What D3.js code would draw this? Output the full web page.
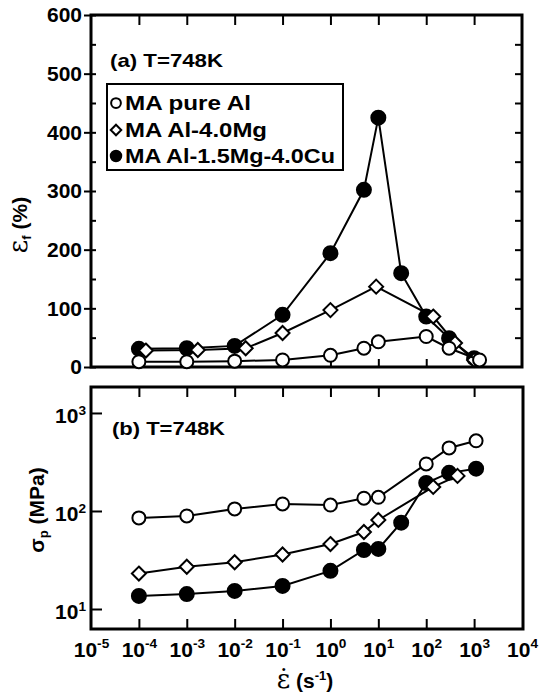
<!DOCTYPE html>
<html>
<head>
<meta charset="utf-8">
<script src="https://cdn.jsdelivr.net/npm/d3@7"></script>
<style>
  body { margin: 0; background: #fff; }
  text { font-family: "Liberation Sans", Arial, sans-serif; font-weight: bold; fill: #000; }
</style>
</head>
<body>
<svg id="chart" width="540" height="695"></svg>
<script>
// (a) elongation to failure, %
const topRatesAl = [1e-4, 1e-3, 1e-2, 1e-1, 1, 5, 10, 100, 300, 1300];
const topElongAl = [9, 9, 10, 12, 20, 32, 43, 52, 32, 12];
const topRatesMg = [1.4e-4, 1.7e-3, 1.7e-2, 1e-1, 1, 9, 140, 400, 1000];
const topElongMg = [28, 29, 32, 58, 97, 137, 86, 41, 12];
const topRatesCu = [1e-4, 1e-3, 1e-2, 1e-1, 1, 5, 10, 30, 100, 300, 1000];
const topElongCu = [31, 32, 36, 89, 194, 302, 425, 160, 86, 49, 15];

// (b) peak stress, MPa
const botRatesAl = [1e-4, 1e-3, 1e-2, 1e-1, 1, 5, 10, 100, 300, 1100];
const botStressAl = [85, 89, 105, 118, 115, 135, 138, 302, 440, 520];
const botRatesMg = [1e-4, 1e-3, 1e-2, 1e-1, 1, 5, 10, 140, 450];
const botStressMg = [23, 27, 30, 36, 46, 61, 81, 176, 228];
const botRatesCu = [1e-4, 1e-3, 1e-2, 1e-1, 1, 5, 10, 30, 100, 300, 1100];
const botStressCu = [13.6, 14.2, 15.3, 17.2, 24.5, 40, 41, 76, 193, 245, 270];

const seriesNames = ["MA pure Al", "MA Al-4.0Mg", "MA Al-1.5Mg-4.0Cu"];
const decadeTicks = [1e-4, 1e-3, 1e-2, 1e-1, 1, 10, 100, 1000];
const xLabelTicks = [1e-5, 1e-4, 1e-3, 1e-2, 1e-1, 1, 10, 100, 1000, 1e4];
const topYTicks = [0, 100, 200, 300, 400, 500, 600];
const topYMinor = d3.range(0, 601, 50);
const botYTicks = [10, 100, 1000];

const svg = d3.select("#chart");

const x = d3.scaleLog().domain([1e-5, 1e4]).range([91, 522]);
const yTop = d3.scaleLinear().domain([0, 600]).range([367, 15]);
const yBot = d3.scaleLog().domain([Math.pow(10, 0.796), Math.pow(10, 3.265)]).range([629, 387]);

const noDomain = g => g.select(".domain").remove();
const tickStyle = g => g.selectAll(".tick line").attr("stroke", "#000").attr("stroke-width", 2);

const supLabel = (sel, fs) => {
  sel.each(function (d) {
    const t = d3.select(this);
    const e = Math.round(Math.log10(d));
    t.text(null);
    t.append("tspan").text("10");
    t.append("tspan").attr("font-size", fs * 0.65).attr("dy", -fs * 0.4).text(e);
  });
};

// ---------- panel (a) ----------
const pa = svg.append("g");

pa.append("g").attr("transform", "translate(0,15)")
  .call(d3.axisTop(x).tickValues(decadeTicks).tickSize(-10).tickFormat(""))
  .call(noDomain).call(tickStyle);
pa.append("g").attr("transform", "translate(0,367)")
  .call(d3.axisBottom(x).tickValues(decadeTicks).tickSize(-8).tickFormat(""))
  .call(noDomain).call(tickStyle);
pa.append("g").attr("transform", "translate(91,0)")
  .call(d3.axisLeft(yTop).tickValues(topYTicks).tickSize(7).tickPadding(2))
  .call(noDomain).call(tickStyle)
  .call(g => g.selectAll("text").attr("font-size", 21).attr("font-family", "Liberation Sans"));
pa.append("g").attr("transform", "translate(91,0)")
  .call(d3.axisLeft(yTop).tickValues(topYMinor).tickSize(-5).tickFormat(""))
  .call(noDomain).call(tickStyle);
pa.append("g").attr("transform", "translate(522,0)")
  .call(d3.axisRight(yTop).tickValues(topYMinor.slice(1, -1)).tickSize(-7).tickFormat(""))
  .call(noDomain).call(tickStyle);

pa.append("rect").attr("x", 91).attr("y", 15).attr("width", 431).attr("height", 352)
  .attr("fill", "none").attr("stroke", "#000").attr("stroke-width", 3);

// ---------- panel (b) ----------
const pb = svg.append("g");

pb.append("g").attr("transform", "translate(0,387)")
  .call(d3.axisTop(x).tickValues(decadeTicks).tickSize(-10).tickFormat(""))
  .call(noDomain).call(tickStyle);
pb.append("g").attr("transform", "translate(0,629)")
  .call(d3.axisBottom(x).tickValues(decadeTicks).tickSize(-10).tickFormat(""))
  .call(noDomain).call(tickStyle);
pb.append("g").attr("transform", "translate(0,629)")
  .call(d3.axisBottom(x).tickValues(xLabelTicks).tickSize(0).tickPadding(11))
  .call(noDomain)
  .call(g => g.selectAll("text").attr("font-size", 21).attr("dy", "0.8em").call(supLabel, 21));
pb.append("g").attr("transform", "translate(91,0)")
  .call(d3.axisLeft(yBot).tickValues(botYTicks).tickSize(-11).tickPadding(5))
  .call(noDomain).call(tickStyle)
  .call(g => g.selectAll("text").attr("font-size", 21).attr("dy", "0.45em").call(supLabel, 21));

pb.append("rect").attr("x", 91).attr("y", 387).attr("width", 432).attr("height", 242)
  .attr("fill", "none").attr("stroke", "#000").attr("stroke-width", 3);

// ---------- series ----------
const diamond = (cx, cy, r) => `M${cx},${cy - r}L${cx + r},${cy}L${cx},${cy + r}L${cx - r},${cy}Z`;

function drawSeries(g, xs, ys, yScale, kind) {
  const pts = xs.map((v, i) => [x(v), yScale(ys[i])]);
  g.append("path").attr("d", d3.line()(pts))
    .attr("fill", "none").attr("stroke", "#000").attr("stroke-width", 2);
  pts.forEach(p => drawMarker(g, p[0], p[1], kind, 1));
}

function drawMarker(g, cx, cy, kind, s) {
  if (kind === "diamond") {
    g.append("path").attr("d", diamond(cx, cy, 7 * s))
      .attr("fill", "#fff").attr("stroke", "#000").attr("stroke-width", 2);
  } else {
    g.append("circle").attr("cx", cx).attr("cy", cy).attr("r", (kind === "filled" ? 7 : 6.5) * s)
      .attr("fill", kind === "filled" ? "#000" : "#fff")
      .attr("stroke", "#000").attr("stroke-width", 2);
  }
}

drawSeries(pa, topRatesCu, topElongCu, yTop, "filled");
drawSeries(pa, topRatesMg, topElongMg, yTop, "diamond");
drawSeries(pa, topRatesAl, topElongAl, yTop, "open");

drawSeries(pb, botRatesCu, botStressCu, yBot, "filled");
drawSeries(pb, botRatesMg, botStressMg, yBot, "diamond");
drawSeries(pb, botRatesAl, botStressAl, yBot, "open");

// ---------- labels ----------
pa.append("text").attr("x", 110).attr("y", 67).attr("font-size", 19)
  .attr("textLength", 113).attr("lengthAdjust", "spacingAndGlyphs").text("(a) T=748K");
pb.append("text").attr("x", 112).attr("y", 435).attr("font-size", 19)
  .attr("textLength", 113).attr("lengthAdjust", "spacingAndGlyphs").text("(b) T=748K");

// legend
const lg = pa.append("g");
lg.append("rect").attr("x", 107).attr("y", 84).attr("width", 236).attr("height", 86)
  .attr("fill", "#fff").attr("stroke", "#000").attr("stroke-width", 2);
const legKinds = ["open", "diamond", "filled"];
const legY = [103, 130, 156];
const legLen = [127, 143, 211];
seriesNames.forEach((name, i) => {
  drawMarker(lg, 116, legY[i], legKinds[i], 0.75);
  lg.append("text").attr("x", 125).attr("y", legY[i] + 7).attr("font-size", 20)
    .attr("textLength", legLen[i] - 1).attr("lengthAdjust", "spacingAndGlyphs").text(name);
});

// y axis titles
const yt = svg.append("text").attr("transform", "translate(27,225) rotate(-90)")
  .attr("text-anchor", "middle").attr("font-size", 21);
yt.append("tspan").attr("font-family", "DejaVu Serif").attr("font-weight", "normal")
  .attr("font-size", 26).text("ε");
yt.append("tspan").attr("font-size", 13).attr("dy", 4).text("f");
yt.append("tspan").attr("dy", -4).text(" (%)");

const yb = svg.append("text").attr("transform", "translate(44,510) rotate(-90)")
  .attr("text-anchor", "middle").attr("font-size", 21);
yb.append("tspan").text("σ");
yb.append("tspan").attr("font-size", 13).attr("dy", 4).text("p");
yb.append("tspan").attr("dy", -4).text(" (MPa)");

// x axis title
const xt = svg.append("text").attr("x", 305).attr("y", 688)
  .attr("text-anchor", "middle").attr("font-size", 21);
xt.append("tspan").attr("font-family", "DejaVu Serif").attr("font-weight", "normal")
  .attr("font-size", 26).text("ε\u0307");
xt.append("tspan").text(" (s");
xt.append("tspan").attr("font-size", 13).attr("dy", -8).text("-1");
xt.append("tspan").attr("dy", 8).text(")");
</script>
</body>
</html>
